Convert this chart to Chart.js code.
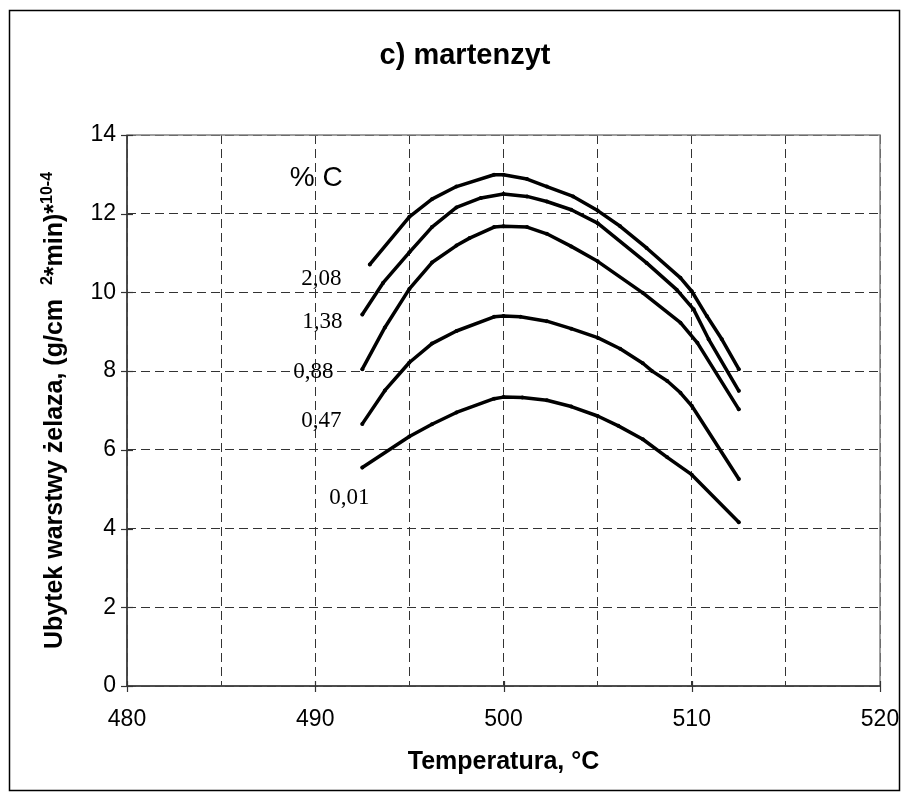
<!DOCTYPE html>
<html>
<head>
<meta charset="utf-8">
<script src="https://cdn.jsdelivr.net/npm/chart.js@4/dist/chart.umd.min.js"></script>
<style>
  html, body { margin: 0; padding: 0; background: #fff; }
  #c { display: block; }
</style>
</head>
<body>
<canvas id="c" width="909" height="800"></canvas>
<script>
// Carbon content of each curve (% C)
const carbon = ['2,08', '1,38', '0,88', '0,47', '0,01'];

// Temperature (°C) and iron layer loss for each carbon content
const temp208 = [492.9, 495.0, 496.2, 497.5, 499.5, 500.0, 501.25, 502.3, 503.7, 505.0, 506.2, 507.6, 509.4, 510.0, 510.8, 511.6, 512.5];
const loss208 = [10.71, 11.92, 12.37, 12.69, 12.99, 12.99, 12.88, 12.69, 12.44, 12.08, 11.68, 11.13, 10.37, 10.03, 9.40, 8.81, 8.05];

const temp138 = [492.5, 493.6, 495.0, 496.2, 497.5, 498.8, 500.0, 501.25, 502.3, 503.6, 505.0, 507.6, 509.2, 510.1, 510.9, 512.5];
const loss138 = [9.44, 10.24, 11.02, 11.66, 12.16, 12.40, 12.50, 12.44, 12.31, 12.10, 11.76, 10.75, 10.07, 9.57, 8.81, 7.50];

const temp088 = [492.5, 493.7, 495.0, 496.2, 497.5, 498.2, 499.5, 500.0, 501.25, 502.3, 503.6, 505.0, 507.4, 509.4, 510.3, 512.5];
const loss088 = [8.05, 9.11, 10.09, 10.76, 11.19, 11.38, 11.66, 11.68, 11.66, 11.49, 11.17, 10.79, 9.99, 9.23, 8.72, 7.03];

const temp047 = [492.5, 493.7, 495.0, 496.2, 497.5, 499.5, 500.0, 500.9, 502.3, 503.6, 505.0, 506.2, 507.4, 507.9, 508.7, 509.4, 510.0, 512.5];
const loss047 = [6.66, 7.51, 8.22, 8.70, 9.02, 9.38, 9.40, 9.38, 9.27, 9.08, 8.85, 8.57, 8.20, 8.00, 7.75, 7.45, 7.12, 5.26];

const temp001 = [492.5, 495.0, 496.2, 497.5, 499.5, 500.0, 501.0, 502.3, 503.6, 505.0, 506.1, 507.4, 508.7, 510.0, 512.5];
const loss001 = [5.55, 6.34, 6.65, 6.95, 7.30, 7.34, 7.33, 7.26, 7.10, 6.86, 6.61, 6.27, 5.81, 5.37, 4.16];

// Axis ranges and tick steps
const xTicks = { min: 480, max: 520, grid: 5, label: 10 };
const yTicks = { min: 0, max: 14, step: 2 };

const temps = [temp208, temp138, temp088, temp047, temp001];
const losses = [loss208, loss138, loss088, loss047, loss001];

// Where each curve's carbon label sits, in axis units (°C, loss)
const labelAnchors = [[490.32, 10.33], [490.38, 9.24], [489.9, 7.97], [490.32, 6.73], [491.81, 4.78]];
const headerAnchor = [490.05, 12.9];

const SANS = '"Liberation Sans", Arial, sans-serif';
const SERIF = '"Liberation Serif", "Times New Roman", serif';

const datasets = carbon.map((c, i) => ({
  label: c,
  data: temps[i].map((t, k) => ({ x: t, y: losses[i][k] })),
  borderColor: '#000',
  backgroundColor: '#000',
  borderWidth: 3.5,
  borderJoinStyle: 'round',
  borderCapStyle: 'round',
  pointRadius: 2,
  pointHoverRadius: 2,
  pointBorderWidth: 0,
  pointBackgroundColor: '#000',
  tension: 0,
  fill: false
}));

// Frame, tick marks, texts
const decorations = {
  id: 'decorations',
  beforeDatasetsDraw(chart) {
    const { ctx, chartArea: a, scales: { x, y } } = chart;
    ctx.save();
    // plot area border
    ctx.strokeStyle = '#808080';
    ctx.lineWidth = 1.5;
    ctx.strokeRect(a.left, a.top, a.right - a.left, a.bottom - a.top);
    // axes
    ctx.strokeStyle = '#333';
    ctx.beginPath();
    ctx.moveTo(a.left, a.top);
    ctx.lineTo(a.left, a.bottom);
    ctx.lineTo(a.right, a.bottom);
    ctx.stroke();
    // tick marks crossing the axes
    ctx.lineWidth = 1.2;
    y.ticks.forEach(t => {
      const py = Math.round(y.getPixelForValue(t.value)) + 0.5;
      ctx.beginPath();
      ctx.moveTo(a.left - 6, py);
      ctx.lineTo(a.left + 6, py);
      ctx.stroke();
    });
    x.ticks.forEach(t => {
      if (t.value % xTicks.label !== 0) return;
      const px = Math.round(x.getPixelForValue(t.value)) + 0.5;
      ctx.beginPath();
      ctx.moveTo(px, a.bottom - 5);
      ctx.lineTo(px, a.bottom + 6);
      ctx.stroke();
    });
    ctx.restore();
  },
  afterDraw(chart) {
    const { ctx, chartArea: a, scales: { x, y } } = chart;
    ctx.save();
    // outer border
    ctx.strokeStyle = '#000';
    ctx.lineWidth = 1.5;
    ctx.strokeRect(9.5, 10.5, 890, 780);

    ctx.fillStyle = '#000';
    ctx.textAlign = 'center';
    ctx.textBaseline = 'middle';

    // chart title
    ctx.font = 'bold 29px ' + SANS;
    ctx.fillText('c) martenzyt', 465, 56);

    // x axis title
    ctx.font = 'bold 25px ' + SANS;
    ctx.fillText('Temperatura, °C', (a.left + a.right) / 2, 762);

    // curve labels
    ctx.font = '23px ' + SERIF;
    carbon.forEach((c, i) => {
      const [t, v] = labelAnchors[i];
      ctx.fillText(c, x.getPixelForValue(t), y.getPixelForValue(v));
    });
    ctx.font = '28px ' + SANS;
    ctx.fillText('% C', x.getPixelForValue(headerAnchor[0]), y.getPixelForValue(headerAnchor[1]));

    // y axis title with superscripts, rotated
    const parts = [
      ['Ubytek warstwy żelaza, (g/cm  ', false],
      ['2', true],
      ['*min)*', false],
      ['10-4', true]
    ];
    const baseFont = 'bold 25px ' + SANS;
    const supFont = 'bold 16px ' + SANS;
    let total = 0;
    parts.forEach(([s, sup]) => { ctx.font = sup ? supFont : baseFont; total += ctx.measureText(s).width; });
    ctx.translate(54, (a.top + a.bottom) / 2);
    ctx.rotate(-Math.PI / 2);
    ctx.textAlign = 'left';
    ctx.textBaseline = 'alphabetic';
    let cx = -total / 2;
    parts.forEach(([s, sup]) => {
      ctx.font = sup ? supFont : baseFont;
      ctx.fillText(s, cx, sup ? -2 : 8);
      cx += ctx.measureText(s).width;
    });
    ctx.restore();
  }
};

new Chart(document.getElementById('c'), {
  type: 'line',
  data: { datasets },
  options: {
    responsive: false,
    animation: false,
    events: [],
    layout: { padding: { left: 0, right: 29, top: 135, bottom: 0 } },
    plugins: { legend: { display: false }, title: { display: false }, tooltip: { enabled: false } },
    scales: {
      x: {
        type: 'linear',
        min: xTicks.min,
        max: xTicks.max,
        afterFit(s) { s.height = 114; s.paddingLeft = 0; s.paddingRight = 0; },
        border: { display: false, dash: [9, 5] },
        grid: { color: '#333', lineWidth: 1, drawTicks: false },
        ticks: {
          stepSize: xTicks.grid,
          padding: 20,
          color: '#000',
          font: { family: SANS, size: 23 },
          callback: v => (v % xTicks.label === 0 ? String(v) : '')
        }
      },
      y: {
        type: 'linear',
        min: yTicks.min,
        max: yTicks.max,
        afterFit(s) { s.width = 127; },
        border: { display: false, dash: [9, 5] },
        grid: { color: '#333', lineWidth: 1, drawTicks: false },
        ticks: {
          stepSize: yTicks.step,
          padding: 11,
          color: '#000',
          font: { family: SANS, size: 23 }
        }
      }
    }
  },
  plugins: [decorations]
});
</script>
</body>
</html>
